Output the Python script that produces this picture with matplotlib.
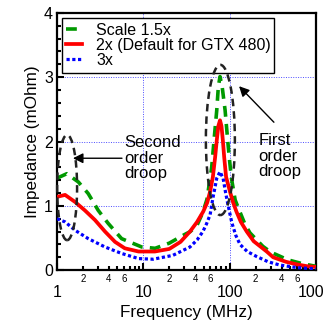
import numpy as np
import matplotlib
matplotlib.use("Agg")
import matplotlib.pyplot as plt
from matplotlib.patches import Ellipse, Rectangle
from matplotlib.ticker import FixedLocator, FuncFormatter, NullFormatter

plt.rcParams["font.family"] = ["Liberation Sans", "DejaVu Sans"]

# ---- data ----
freq_green = [1, 1.3, 1.77, 2.3, 3.0, 3.9, 5.6, 9.6, 13.7, 20, 28.8, 35, 42, 49,
              54.6, 59, 62, 66, 71, 74, 77.4, 82, 88.6, 95, 100, 105, 116, 125,
              150, 172, 243, 300, 475, 700, 1000]
z_green = [1.43, 1.50, 1.37, 1.19, 0.93, 0.73, 0.49, 0.36, 0.34, 0.42, 0.54, 0.60,
           0.70, 0.90, 1.10, 1.40, 1.60, 2.02, 2.49, 2.85, 3.01, 2.85, 2.49, 2.02,
           1.70, 1.43, 1.09, 0.98, 0.72, 0.58, 0.37, 0.28, 0.16, 0.10, 0.06]

freq_red = [1, 1.24, 1.62, 2.1, 2.75, 3.6, 4.7, 6.1, 8.8, 13.6, 20, 27, 34.7, 42,
            49.4, 55, 59.4, 64, 68, 71, 74, 77.4, 80.5, 83.5, 86.5, 91, 101, 110,
            120, 135, 158, 190, 269, 320, 450, 600, 800, 1000]
z_red = [1.14, 1.17, 1.06, 0.93, 0.78, 0.60, 0.44, 0.34, 0.29, 0.29, 0.33, 0.44,
         0.60, 0.75, 0.91, 1.05, 1.22, 1.45, 1.76, 2.02, 2.24, 2.33, 2.24, 2.02,
         1.76, 1.45, 1.22, 1.05, 0.91, 0.75, 0.60, 0.45, 0.29, 0.20, 0.13, 0.09,
         0.06, 0.05]

freq_blue = [1, 1.24, 1.62, 2.3, 3.6, 5.6, 8.8, 13, 22, 34.7, 42, 49, 54, 59.4,
             64, 71, 77.4, 84, 90, 96, 106, 118, 132, 160, 207, 280, 380, 600, 1000]
z_blue = [0.80, 0.75, 0.62, 0.49, 0.36, 0.26, 0.18, 0.17, 0.23, 0.36, 0.47, 0.60,
          0.72, 0.86, 1.12, 1.43, 1.53, 1.43, 1.20, 1.01, 0.74, 0.54, 0.40, 0.29,
          0.21, 0.13, 0.08, 0.04, 0.02]

labels = ["Scale 1.5x", "2x (Default for GTX 480)", "3x"]

fig = plt.figure(figsize=(3.24, 3.22), dpi=100)
ax = fig.add_axes([0.176, 0.161, 0.799, 0.799])

ax.plot(freq_green, z_green, color="#009900", lw=2.6, linestyle=(0, (3, 2)),
        dash_capstyle="butt", label=labels[0], zorder=3)
ax.plot(freq_red, z_red, color="red", lw=2.7, label=labels[1], zorder=3)
ax.plot(freq_blue, z_blue, color="blue", lw=2.3, linestyle=(0, (1, 0.8)),
        dash_capstyle="butt", label=labels[2], zorder=3)

ax.set_xscale("log")
ax.set_xlim(1, 1000)
ax.set_ylim(0, 4)

# ticks
ax.xaxis.set_major_locator(FixedLocator([1, 10, 100, 1000]))
ax.xaxis.set_major_formatter(FuncFormatter(lambda v, p: "%d" % round(v)))
minor = [m * d for d in (1, 10, 100) for m in range(2, 10)]
ax.xaxis.set_minor_locator(FixedLocator(minor))
ax.xaxis.set_minor_formatter(FuncFormatter(
    lambda v, p: ("%d" % round(v / 10 ** np.floor(np.log10(v) + 1e-9)))
    if round(v / 10 ** np.floor(np.log10(v) + 1e-9)) in (2, 4, 6) else ""))
ax.yaxis.set_major_locator(FixedLocator([0, 1, 2, 3, 4]))
ax.yaxis.set_minor_locator(FixedLocator(np.arange(0, 4.01, 0.2)))
ax.yaxis.set_minor_formatter(NullFormatter())

ax.tick_params(which="both", direction="in", width=1.5, top=False, right=False)
ax.tick_params(which="major", length=5)
ax.tick_params(which="minor", length=3)
ax.tick_params(axis="x", which="major", labelsize=11.5, pad=11)
ax.tick_params(axis="x", which="minor", labelsize=7, pad=3)
ax.tick_params(axis="y", which="major", labelsize=11.5, pad=3)

for s in ax.spines.values():
    s.set_linewidth(1.6)

ax.grid(which="major", color="blue", lw=0.7, linestyle=(0, (1, 1.5)), alpha=0.7)

ax.set_xlabel("Frequency (MHz)", fontsize=12.3, labelpad=3)
ax.set_ylabel("Impedance (mOhm)", fontsize=12.3, labelpad=3)

# legend box (wider than the legend's own frame, like the original)
ax.add_patch(Rectangle((0.019, 0.767), 0.819, 0.213, transform=ax.transAxes,
                       facecolor="white", edgecolor="black", lw=1.0, zorder=4.5))
leg = ax.legend(loc="center left", bbox_to_anchor=(0.019, 0.8735), fontsize=11.5,
                frameon=False, handlelength=1.0, labelspacing=0.0,
                borderpad=0.25, handletextpad=0.9, borderaxespad=0)
leg.set_zorder(5)

# droop ellipses
for cx, cy, w, h in [(0.039, 0.321, 0.077, 0.409), (0.631, 0.506, 0.112, 0.584)]:
    ax.add_patch(Ellipse((cx, cy), w, h, transform=ax.transAxes, fill=False,
                         edgecolor="#222222", lw=1.8, linestyle=(0, (3, 2)),
                         zorder=6, clip_on=False))

# annotations
ax.annotate("", xy=(1.53, 1.74), xytext=(5.66, 1.74),
            arrowprops=dict(arrowstyle="-|>", color="black", lw=1.0,
                            mutation_scale=15, shrinkA=0, shrinkB=0))
ax.text(5.98, 1.74, "Second\norder\ndroop", fontsize=12, ha="left",
        va="center", linespacing=1.05)
ax.annotate("", xy=(128.7, 2.86), xytext=(326, 2.30),
            arrowprops=dict(arrowstyle="-|>", color="black", lw=1.0,
                            mutation_scale=15, shrinkA=0, shrinkB=0))
ax.text(216, 1.77, "First\norder\ndroop", fontsize=12, ha="left",
        va="center", linespacing=1.05)

fig.savefig("out.png", dpi=100)
